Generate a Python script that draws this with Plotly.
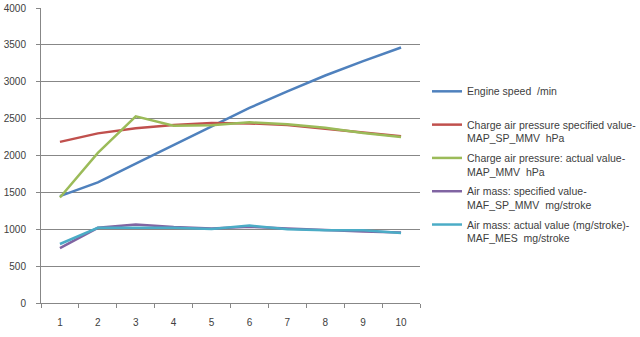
import plotly.graph_objects as go

# Measurement points (test steps 1..10)
steps = ["1", "2", "3", "4", "5", "6", "7", "8", "9", "10"]

engine_speed = [1450, 1635, 1890, 2140, 2395, 2645, 2870, 3085, 3280, 3465]
map_sp_mmv = [2185, 2300, 2370, 2415, 2440, 2435, 2415, 2360, 2305, 2260]
map_mmv = [1430, 2035, 2530, 2405, 2410, 2450, 2425, 2375, 2305, 2250]
maf_sp_mmv = [745, 1020, 1065, 1030, 1010, 1035, 1010, 985, 970, 955]
maf_mes = [800, 1020, 1020, 1020, 1005, 1050, 1000, 985, 985, 950]

series_names = [
    "Engine speed  /min<br> ",
    "Charge air pressure specified value-<br>MAP_SP_MMV  hPa",
    "Charge air pressure: actual value-<br>MAP_MMV  hPa",
    "Air mass: specified value-<br>MAF_SP_MMV  mg/stroke",
    "Air mass: actual value (mg/stroke)-<br>MAF_MES  mg/stroke",
]
series_values = [engine_speed, map_sp_mmv, map_mmv, maf_sp_mmv, maf_mes]
series_colors = ["#4F81BD", "#C0504D", "#9BBB59", "#8064A2", "#4BACC6"]

y_ticks = [0, 500, 1000, 1500, 2000, 2500, 3000, 3500, 4000]

fig = go.Figure()
for name, vals, color in zip(series_names, series_values, series_colors):
    fig.add_trace(go.Scatter(
        x=steps, y=vals, name=name, mode="lines",
        line=dict(color=color, width=2.5),
        legendgroup=name,
    ))

axis_grey = "#878787"
text_grey = "#404040"

fig.update_layout(
    width=640, height=337,
    margin=dict(l=41, r=220, t=8, b=34, autoexpand=False),
    paper_bgcolor="white", plot_bgcolor="white",
    font=dict(family="Liberation Sans, Arial, sans-serif", size=10, color=text_grey),
    showlegend=True,
    legend=dict(
        x=(427 - 41) / 379, y=(303 - 78) / 295,
        xanchor="left", yanchor="top",
        font=dict(size=10.5, color=text_grey),
        valign="top",
        tracegroupgap=3,
        maxheight=400,
        bgcolor="rgba(0,0,0,0)",
    ),
    xaxis=dict(
        type="category",
        range=[-0.5, 9.5],
        tickson="boundaries",
        ticks="outside", ticklen=4, tickcolor=axis_grey,
        showline=True, linecolor=axis_grey, linewidth=1,
        showgrid=False, zeroline=False,
        ticklabelstandoff=10,
        automargin=False,
    ),
    yaxis=dict(
        range=[0, 4000],
        tickvals=y_ticks,
        ticks="outside", ticklen=4, tickcolor=axis_grey,
        showline=True, linecolor=axis_grey, linewidth=1,
        showgrid=True, gridcolor=axis_grey, gridwidth=1,
        zeroline=False,
        ticklabelstandoff=8,
        automargin=False,
    ),
)

fig.write_html("out.html")
